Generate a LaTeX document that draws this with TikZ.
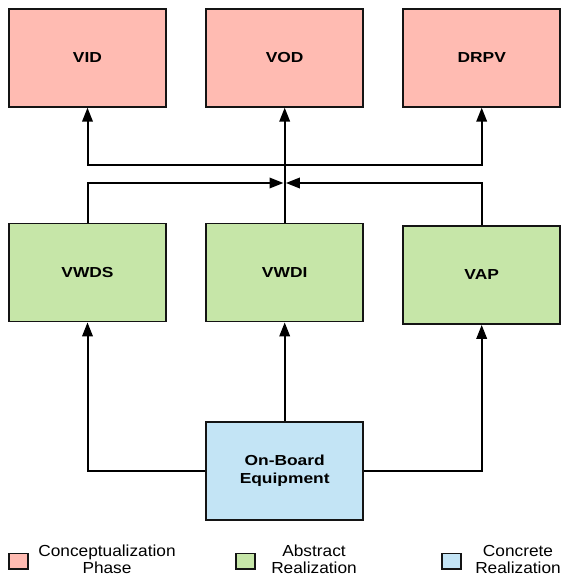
\documentclass[tikz,border=0pt]{standalone}
\usepackage{fontspec}
\setmainfont{Liberation Sans}
\newfontfamily\lblfont[FakeStretch=1.2]{Liberation Sans}
\newfontfamily\lgdfont[FakeStretch=1.08]{Liberation Sans}
\usetikzlibrary{arrows.meta}
\definecolor{cpink}{RGB}{255,187,178}
\definecolor{cgreen}{RGB}{198,230,168}
\definecolor{cblue}{RGB}{195,228,245}
\definecolor{cline}{RGB}{20,20,20}
\tikzset{
  box/.style={draw=cline, line width=1.8pt, minimum width=157pt, minimum height=98pt, inner sep=0pt,
    align=center, font=\lblfont\bfseries\fontsize{14.5}{17.7}\selectfont},
  pinkbox/.style={box, fill=cpink},
  greenbox/.style={box, fill=cgreen},
  bluebox/.style={box, fill=cblue},
  arr/.style={draw=black, line width=2pt, -{Triangle[length=14pt,width=10.5pt]}},
  legsq/.style={draw=cline, line width=1.8pt, minimum width=19.5pt, minimum height=15.8pt, inner sep=0pt},
  legtxt/.style={align=center, inner sep=0pt, font=\lgdfont\fontsize{16}{16.6}\selectfont}
}
\begin{document}
\begin{tikzpicture}[x=1pt,y=-1pt]
\useasboundingbox[fill=white] (0,0) rectangle (563,578);
% top row
\node[pinkbox] (VID)  at (87.5,57.8)  {VID};
\node[pinkbox] (VOD)  at (284.7,57.8) {VOD};
\node[pinkbox] (DRPV) at (481.7,57.8) {DRPV};
% middle row
\node[greenbox] (VWDS) at (87.5,272.5)  {VWDS};
\node[greenbox] (VWDI) at (284.7,272.5) {VWDI};
\node[greenbox] (VAP)  at (481.7,275)   {VAP};
% bottom
\node[bluebox] (OBE) at (284.7,470.8) {On-Board\\Equipment};
% junction points
\coordinate (jU) at (284.7,165);
\coordinate (jL) at (284.7,183);
% connectors middle -> top
\draw[arr, shorten >=1.2pt] (VWDS.north) |- (jL);
\draw[arr, shorten >=1.2pt] (VAP.north) |- (jL);
\draw[arr] (VWDI.north) -- (VOD.south);
\draw[arr] (jU) -| (VID.south);
\draw[arr] (jU) -| (DRPV.south);
% connectors bottom -> middle
\draw[arr] (OBE.north) -- (VWDI.south);
\draw[arr] (OBE.west) -| (VWDS.south);
\draw[arr] (OBE.east) -| (VAP.south);
% legend
\node[legsq, fill=cpink]  (L1) at (18.5,561.3) {};
\node[legsq, fill=cgreen] (L2) at (245.5,561.3) {};
\node[legsq, fill=cblue]  (L3) at (451.5,561.3) {};
\node[legtxt] (T1) at (107,559.5) {Conceptualization\\Phase};
\node[legtxt] (T2) at (314,559.5) {Abstract\\Realization};
\node[legtxt] (T3) at (518,559.5) {Concrete\\Realization};
\end{tikzpicture}
\end{document}
